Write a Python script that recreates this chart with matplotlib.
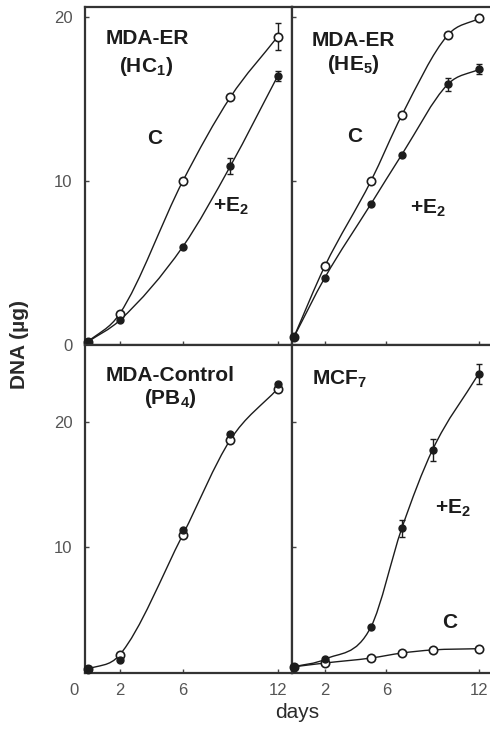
import numpy as np
import matplotlib.pyplot as plt
from matplotlib.path import Path
from matplotlib.patches import PathPatch

plt.rcParams['font.family'] = ['Liberation Sans', 'DejaVu Sans']
plt.rcParams['mathtext.fontset'] = 'custom'
plt.rcParams['mathtext.rm'] = 'Liberation Sans'
plt.rcParams['mathtext.bf'] = 'Liberation Sans:bold'

# MDA-ER (HC1)
hc1_days = [0, 2, 6, 9, 12]
hc1_c = [0.2, 1.9, 10.0, 15.1, 18.8]
hc1_c_err = [0, 0, 0, 0, 0.8]
hc1_e2 = [0.2, 1.5, 6.0, 10.9, 16.4]
hc1_e2_err = [0, 0, 0, 0.5, 0.3]

# MDA-ER (HE5)
he5_days = [0, 2, 5, 7, 10, 12]
he5_c = [0.5, 4.8, 10.0, 14.0, 18.9, 19.9]
he5_e2 = [0.5, 4.1, 8.6, 11.6, 15.9, 16.8]
he5_e2_err = [0, 0, 0, 0, 0.4, 0.3]

# MDA-Control (PB4)
pb4_days = [0, 2, 6, 9, 12]
pb4_c = [0.2, 1.35, 11.0, 18.6, 22.7]
pb4_e2 = [0.2, 0.95, 11.4, 19.1, 23.1]

# MCF7
mcf7_days = [0, 2, 5, 7, 9, 12]
mcf7_c = [0.4, 0.7, 1.1, 1.5, 1.75, 1.85]
mcf7_e2 = [0.4, 1.0, 3.6, 11.5, 17.8, 23.9]
mcf7_e2_err = [0, 0, 0, 0.7, 0.9, 0.8]

W, H = 490, 729
INK = '#1c1c1c'
FRAME = '#333333'
TICKC = '#555555'


def fx(px):
    return px / W


def fy(py):
    return 1 - py / H


def smooth_path(x, y):
    # monotone cubic (Fritsch-Carlson) through the points, as beziers
    x = np.asarray(x, float)
    y = np.asarray(y, float)
    h = np.diff(x)
    d = np.diff(y) / h
    m = np.zeros_like(y)
    m[0], m[-1] = d[0], d[-1]
    for k in range(1, len(x) - 1):
        m[k] = 0 if d[k - 1] * d[k] <= 0 else (d[k - 1] + d[k]) / 2
    for k in range(len(d)):
        if d[k] == 0:
            m[k] = m[k + 1] = 0
            continue
        a, b = m[k] / d[k], m[k + 1] / d[k]
        s = a * a + b * b
        if s > 9:
            t = 3 / np.sqrt(s)
            m[k], m[k + 1] = t * a * d[k], t * b * d[k]
    verts = [(x[0], y[0])]
    codes = [Path.MOVETO]
    for k in range(len(d)):
        verts += [(x[k] + h[k] / 3, y[k] + m[k] * h[k] / 3),
                  (x[k + 1] - h[k] / 3, y[k + 1] - m[k + 1] * h[k] / 3),
                  (x[k + 1], y[k + 1])]
        codes += [Path.CURVE4] * 3
    return Path(verts, codes)


def curve(ax, x, y):
    ax.add_patch(PathPatch(smooth_path(x, y), fill=False, ec=INK, lw=1.0,
                           zorder=2))


def open_pts(ax, x, y):
    ax.plot(x, y, ls='none', marker='o', ms=6, mfc='white', mec=INK,
            mew=1.2, zorder=4, clip_on=False)


def filled_pts(ax, x, y):
    ax.plot(x, y, ls='none', marker='o', ms=5, mfc=INK, mec=INK,
            zorder=5, clip_on=False)


def err(ax, x, y, e):
    x = np.array(x)
    y = np.array(y)
    e = np.array(e)
    m = e > 0
    ax.errorbar(x[m], y[m], yerr=e[m], fmt='none', ecolor=INK, elinewidth=1,
                capsize=2, capthick=1, zorder=3, clip_on=False)


def style(ax, xlim, ylim, yt, xlabels, ylabels, hide_right):
    ax.set_xlim(*xlim)
    ax.set_ylim(*ylim)
    ax.set_xticks([2, 6, 12])
    ax.set_yticks(yt)
    ax.tick_params(direction='in', length=3, width=1, color='#444444',
                   labelsize=12, labelcolor=TICKC)
    ax.tick_params(axis='y', pad=9)
    ax.tick_params(axis='x', pad=7)
    if not xlabels:
        ax.set_xticklabels([])
    if not ylabels:
        ax.set_yticklabels([])
    for s in ax.spines.values():
        s.set_color(FRAME)
        s.set_linewidth(1.6)
    if hide_right:
        ax.spines['right'].set_visible(False)


fig = plt.figure(figsize=(4.9, 7.29), dpi=100)

left_l, left_r = 85, 292
right_l, right_r = 292, 490
top_t, mid, bot_b = 7, 345, 673

ax_hc1 = fig.add_axes([fx(left_l), fy(mid), fx(left_r - left_l), (mid - top_t) / H])
ax_he5 = fig.add_axes([fx(right_l), fy(mid), fx(right_r - right_l), (mid - top_t) / H])
ax_pb4 = fig.add_axes([fx(left_l), fy(bot_b), fx(left_r - left_l), (bot_b - mid) / H])
ax_mcf = fig.add_axes([fx(right_l), fy(bot_b), fx(right_r - right_l), (bot_b - mid) / H])

lx = (-0.19, 12.9)
rx = (-0.13, 12.73)
ty = (0, 20.6)
by = (-0.1, 26.2)

# top left: MDA-ER (HC1)
curve(ax_hc1, hc1_days, hc1_c)
curve(ax_hc1, hc1_days, hc1_e2)
err(ax_hc1, hc1_days, hc1_c, hc1_c_err)
err(ax_hc1, hc1_days, hc1_e2, hc1_e2_err)
open_pts(ax_hc1, hc1_days, hc1_c)
filled_pts(ax_hc1, hc1_days, hc1_e2)
style(ax_hc1, lx, ty, [0, 10, 20], False, True, False)

# top right: MDA-ER (HE5)
curve(ax_he5, he5_days, he5_c)
curve(ax_he5, he5_days, he5_e2)
err(ax_he5, he5_days, he5_e2, he5_e2_err)
open_pts(ax_he5, he5_days, he5_c)
filled_pts(ax_he5, he5_days, he5_e2)
style(ax_he5, rx, ty, [10, 20], False, False, True)

# bottom left: MDA-Control (PB4)
curve(ax_pb4, pb4_days, pb4_c)
open_pts(ax_pb4, pb4_days, pb4_c)
filled_pts(ax_pb4, pb4_days, pb4_e2)
style(ax_pb4, lx, by, [10, 20], True, True, False)
ax_pb4.annotate('0', xy=(0, 0), xycoords=('data', 'axes fraction'),
                xytext=(-10, -7), textcoords='offset points', ha='center',
                va='top', fontsize=12, color=TICKC)

# bottom right: MCF7
curve(ax_mcf, mcf7_days, mcf7_c)
curve(ax_mcf, mcf7_days, mcf7_e2)
err(ax_mcf, mcf7_days, mcf7_e2, mcf7_e2_err)
open_pts(ax_mcf, mcf7_days, mcf7_c)
filled_pts(ax_mcf, mcf7_days, mcf7_e2)
style(ax_mcf, rx, by, [10, 20], True, False, True)

lab = dict(fontsize=15, color=INK, fontweight='bold')
fig.text(fx(147), fy(38), 'MDA-ER', ha='center', va='center', **lab)
fig.text(fx(146), fy(66), r'(HC$_\mathbf{1}$)', ha='center', va='center', **lab)
fig.text(fx(155), fy(138), 'C', ha='center', va='center', **lab)
fig.text(fx(213), fy(206), r'+E$_\mathbf{2}$', ha='left', va='center', **lab)

fig.text(fx(353), fy(40), 'MDA-ER', ha='center', va='center', **lab)
fig.text(fx(353), fy(65), r'(HE$_\mathbf{5}$)', ha='center', va='center', **lab)
fig.text(fx(355), fy(137), 'C', ha='center', va='center', **lab)
fig.text(fx(410), fy(208), r'+E$_\mathbf{2}$', ha='left', va='center', **lab)

fig.text(fx(170), fy(376), 'MDA-Control', ha='center', va='center', **lab)
fig.text(fx(170), fy(399), r'(PB$_\mathbf{4}$)', ha='center', va='center', **lab)

fig.text(fx(312), fy(379), r'MCF$_\mathbf{7}$', ha='left', va='center', **lab)
fig.text(fx(435), fy(508), r'+E$_\mathbf{2}$', ha='left', va='center', **lab)
fig.text(fx(450), fy(623), 'C', ha='center', va='center', **lab)

fig.text(fx(20), fy(345), 'DNA (µg)', rotation=90, ha='center', va='center',
         fontsize=15, color='#2a2a2a', fontweight='bold')
fig.text(fx(297), fy(713), 'days', ha='center', va='center', fontsize=15,
         color='#2a2a2a')

fig.savefig('out.png', dpi=100)
